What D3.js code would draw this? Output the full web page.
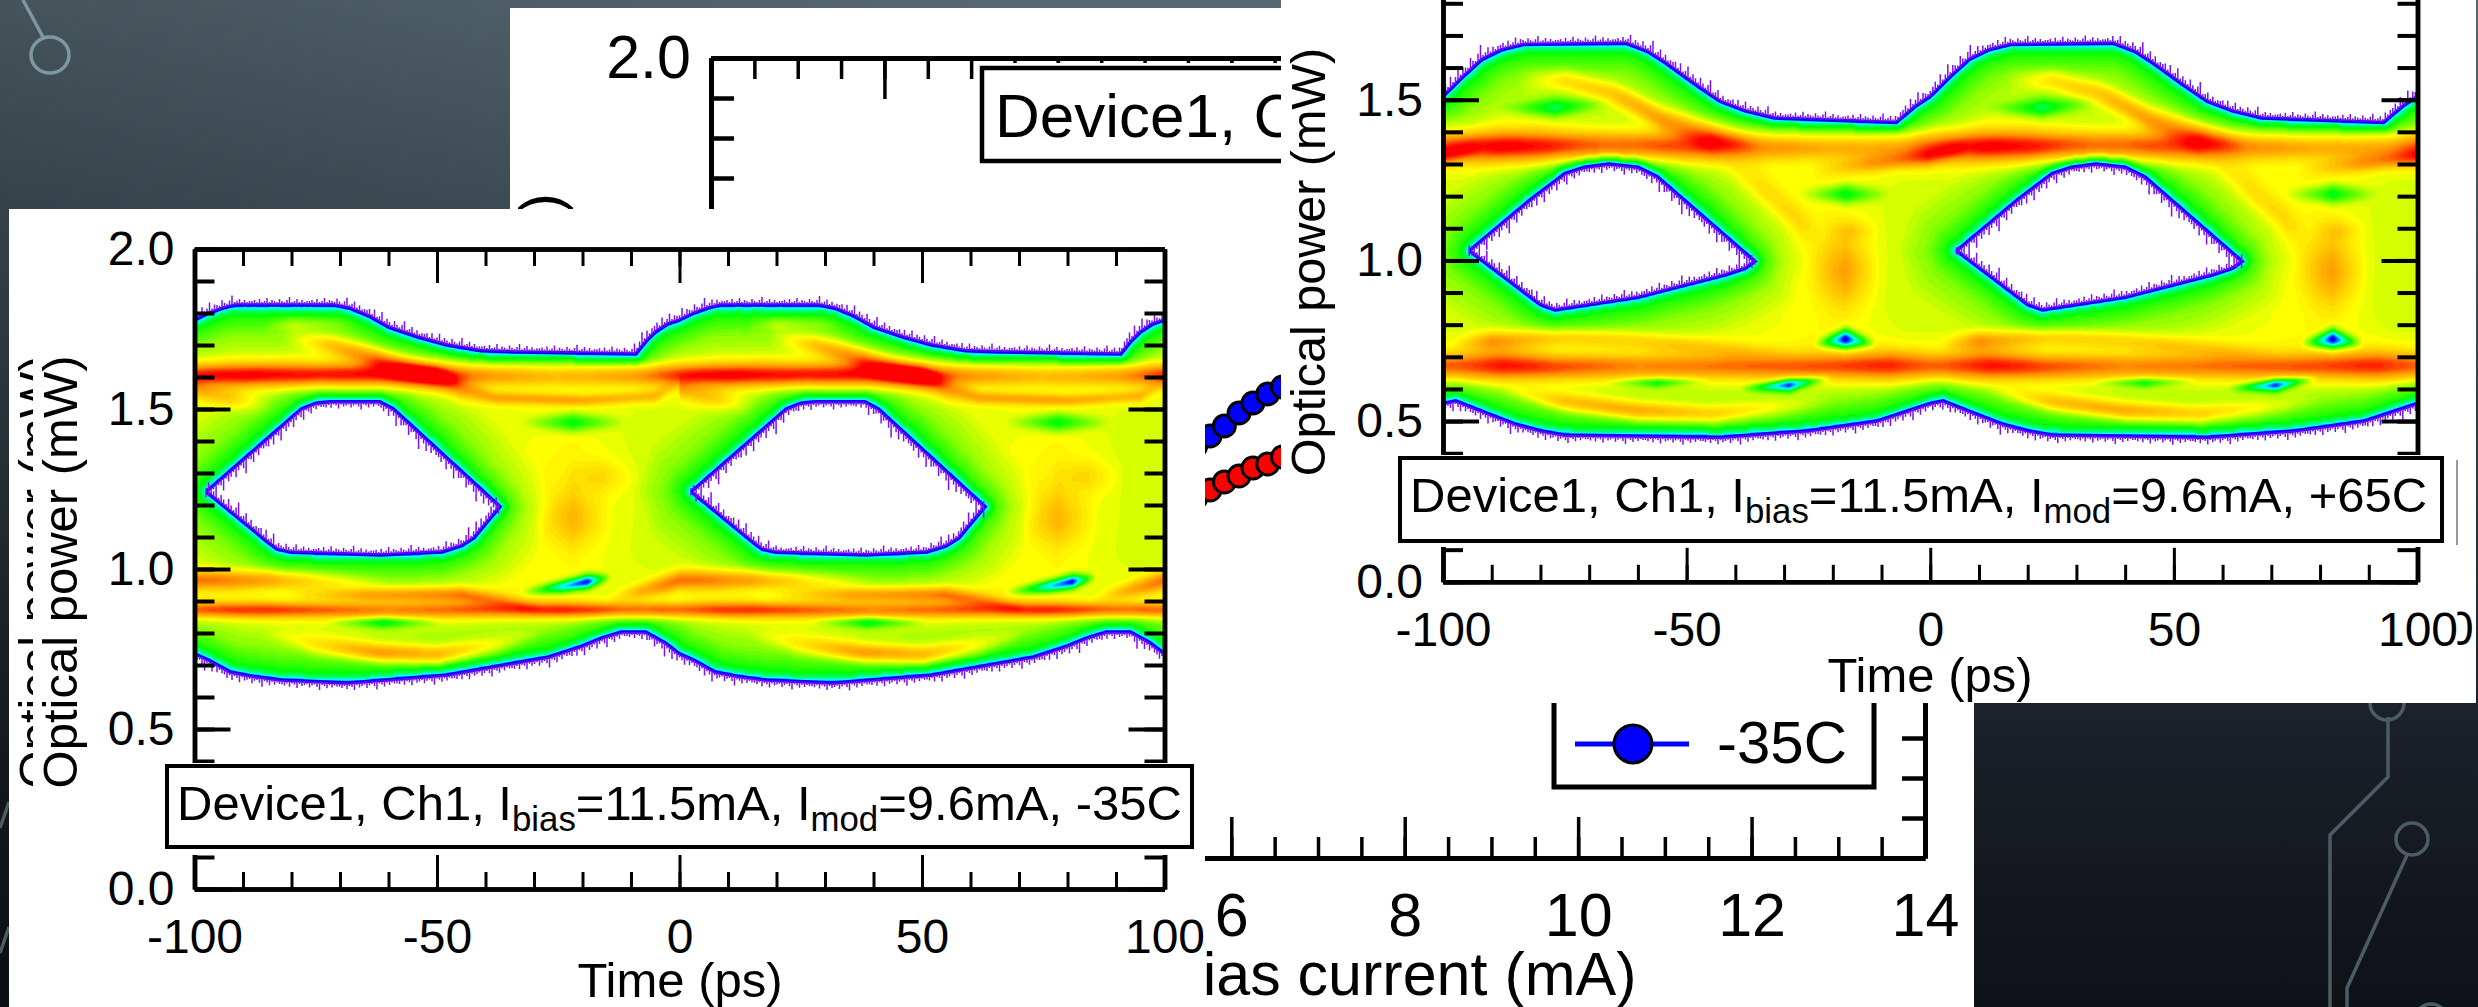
<!DOCTYPE html>
<html>
<head>
<meta charset="utf-8">
<script src="https://d3js.org/d3.v7.min.js"></script>
<style>
html, body { margin: 0; padding: 0; background: #10141a; overflow: hidden; }
text { font-family: "Liberation Sans", Arial, sans-serif; fill: #000; }
.axis text { fill: #000; font-family: "Liberation Sans", Arial, sans-serif; }
.axis path, .axis line { stroke: #000; }
</style>
</head>
<body>
<svg id="slide" width="2478" height="1007"></svg>
<script>
// eye diagram outlines for one 100 ps period, [time ps, power mW]
var coldTopEdge = [[-100,1.778],[-97,1.80],[-94,1.816],[-91.5,1.825],[-71.3,1.825],[-68,1.815],[-64,1.79],[-60,1.756],[-54,1.725],[-48,1.70],[-41,1.682],[-34,1.678],[-9,1.672],[-7,1.71],[-5,1.74],[-2.5,1.765],[0,1.778]];
var coldBottomEdge = [[-100,.735],[-97,.715],[-92.6,.678],[-88,.665],[-82,.653],[-68.4,.644],[-48,.669],[-27,.725],[-20,.76],[-16,.785],[-12,.803],[-7,.803],[-3,.77],[0,.735]];
var coldEyeTop = [[-97.6,1.2415],[-78,1.50],[-75,1.518],[-72,1.523],[-61.8,1.523],[-59,1.50],[-37,1.195]];
var coldEyeBottom = [[-97.6,1.2415],[-85,1.085],[-83,1.062],[-80,1.052],[-61.6,1.044],[-49,1.053],[-45,1.072],[-42.4,1.097],[-37,1.195]];

var hotTopEdge = [[-100,1.51],[-96,1.57],[-92,1.625],[-88,1.655],[-83.4,1.672],[-62.5,1.676],[-58,1.65],[-54.4,1.615],[-48,1.545],[-43.2,1.495],[-38,1.465],[-32,1.443],[-7,1.429],[-3,1.48],[0,1.51]];
var hotBottomEdge = [[-100,.555],[-97.4,.563],[-91,.525],[-85,.49],[-80,.47],[-75,.457],[-43,.45],[-25,.47],[-11,.5],[-3,.54],[0,.555]];
var hotEyeTop = [[-94.6,1.03],[-82,1.19],[-75,1.27],[-71,1.29],[-66,1.30],[-60,1.29],[-56,1.26],[-36,.997]];
var hotEyeBottom = [[-94.6,1.03],[-80,.862],[-77,.846],[-60,.885],[-42,.955],[-38,.975],[-36,.997]];

// hit density ridges and dips, each row [time ps, power mW, strength, spread mW]
var coldRidges = [
  [[-100,1.606,.36,.034],[-85,1.606,.40,.036],[-70,1.606,.44,.038],[-50,1.606,.44,.038],[-42,1.606,.30,.034],[-25,1.606,.20,.034],[-10,1.606,.28,.034],[0,1.606,.36,.034]],
  [[-82,1.73,0,.03],[-72,1.70,.2,.03],[-62,1.655,.28,.034],[-50,1.60,.2,.036],[-45,1.56,.2,.03],[-38,1.535,.22,.02],[-20,1.527,.2,.018],[-5,1.54,.18,.02],[0,1.58,0,.02]],
  [[-100,1.56,.14,.03],[-92,1.53,.12,.03],[-84,1.51,0,.03]],
  [[-86,1.76,0,.02],[-80,1.765,.1,.022],[-72,1.765,.06,.02],[-66,1.76,0,.02]],
  [[-100,1.6,.06,.09],[0,1.6,.06,.09]],
  [[-100,.872,.32,.024],[-85,.872,.34,.024],[-60,.872,.24,.024],[-35,.872,.30,.024],[-25,.872,.38,.024],[-5,.872,.36,.024],[0,.872,.32,.024]],
  [[-100,.966,.28,.03],[-85,.966,.26,.03],[-72,.962,.12,.03],[-60,.96,0,.02]],
  [[-15,.905,0,.02],[-8,.93,.2,.026],[-3,.95,.26,.03],[0,.966,.28,.03]],
  [[-82,.92,0,.02],[-65,.92,.22,.022],[-45,.92,.28,.024],[-36,.90,.16,.022],[-28,.875,0,.02]],
  [[-100,.9,.05,.09],[0,.9,.05,.09]],
  [[-86,.80,0,.02],[-75,.765,.14,.032],[-62,.7375,.32,.03],[-50,.73,.30,.03],[-38,.76,.14,.03],[-28,.80,0,.02]],
  [[-50,1.2,0,.28],[-22,1.25,.08,.3],[-5,1.2,0,.28]],
  [[-30,1.155,0,.07],[-22,1.155,.13,.09],[-14,1.155,0,.07]],
  [[-24,1.29,0,.04],[-16,1.29,.08,.05],[-8,1.29,0,.04]],
  [[-33,1.458,0,.016],[-22,1.458,-.26,.03],[-11,1.458,0,.016]],
  [[-73,.833,0,.012],[-61,.833,-.26,.018],[-49,.833,0,.012]],
  [[-33,.925,0,.014],[-24,.945,-.42,.02],[-19,.96,-.56,.022],[-14,.975,0,.012]]
];
var hotRidges = [
  [[-100,1.354,.32,.044],[-88,1.354,.40,.048],[-80,1.354,.42,.048],[-60,1.354,.38,.046],[-40,1.354,.30,.044],[-20,1.354,.22,.04],[-5,1.354,.26,.044],[0,1.354,.32,.044]],
  [[-85,1.56,0,.03],[-75,1.56,.16,.032],[-65,1.52,.18,.034],[-55,1.44,.24,.036],[-45,1.39,.22,.04],[-35,1.36,0,.03]],
  [[-25,1.28,0,.026],[-12,1.30,.2,.028],[0,1.32,.22,.028]],
  [[-100,1.32,.2,.028],[-92,1.35,0,.026]],
  [[-100,1.35,.05,.1],[0,1.35,.05,.1]],
  [[-42,1.30,0,.05],[-34,1.22,.09,.05],[-27,1.13,.08,.05],[-22,1.08,0,.04]],
  [[-45,1.0,0,.3],[-20,1.0,.08,.3],[-5,1.0,0,.3]],
  [[-25,.966,0,.09],[-17.4,.966,.18,.11],[-10,.966,0,.09]],
  [[-22,1.093,0,.03],[-16,1.093,.08,.03],[-10,1.093,0,.03]],
  [[-100,.67,.33,.042],[-88,.67,.38,.046],[-75,.67,.30,.04],[-60,.67,.23,.036],[-40,.67,.26,.036],[-20,.67,.28,.04],[-8,.67,.36,.046],[0,.67,.33,.042]],
  [[-98,.74,0,.02],[-90,.75,.22,.03],[-75,.76,.18,.028],[-60,.75,.14,.028],[-40,.72,.1,.028],[-28,.71,0,.02]],
  [[-100,.68,.05,.1],[0,.68,.05,.1]],
  [[-88,.60,0,.02],[-75,.56,.22,.03],[-60,.53,.30,.03],[-45,.52,.24,.03],[-30,.54,.1,.03],[-20,.56,0,.02]],
  [[-27,1.206,0,.016],[-17.4,1.206,-.26,.03],[-8,1.206,0,.016]],
  [[-89,1.475,0,.016],[-77,1.475,-.26,.03],[-65,1.49,0,.016]],
  [[-67,.62,0,.01],[-56,.62,-.24,.016],[-45,.625,0,.01]],
  [[-39,.60,0,.01],[-29,.613,-.52,.02],[-20,.635,0,.01]],
  [[-24,.74,0,.014],[-17.4,.755,-.6,.03],[-11,.74,0,.014]]
];

var periodOffsets = [0, 100];

// the temperature sweep hidden behind the two eyes
var sweepCurrent = [5.59, 5.755, 5.92, 6.09, 6.25, 6.42, 6.59];
var sweepCold = [1.03, 1.055, 1.08, 1.1125, 1.1375, 1.16, 1.1775];
var sweepHot = [.90, .92, .94, .955, .975, .985, 1.0025];

var timeMajor = [-100, -50, 0, 50, 100];
var powerMajor = [0, .5, 1, 1.5, 2];
var currentMajor = [0, 2, 4, 6, 8, 10, 12, 14];

// edge ragging, pixels, repeats along each outline
var speckle = [2, 3, 1, 4, 1, 2, 5, 1, 3, 2, 1, 4, 2, 1, 3, 6, 1, 2, 4, 1, 3, 1, 2];

var svg = d3.select("#slide");

var rainbow = d3.scaleLinear()
    .domain([0, .08, .22, .38, .62, .85, 1])
    .range(["#8000ff", "#0000ff", "#00ffff", "#00ff00", "#ffff00", "#ff8c00", "#ff0000"])
    .clamp(true);

var edgeFade = d3.scaleLinear()
    .domain([0, 3, 6, 12, 30, 60])
    .range([.08, .22, .32, .40, .50, .57])
    .clamp(true);

function pieceScale(rows, col) {
    return d3.scaleLinear()
        .domain(rows.map(function(d) { return d[0]; }))
        .range(rows.map(function(d) { return d[col]; }))
        .clamp(true);
}

function wrapTime(t) {
    var w = ((t + 100) % 100 + 100) % 100 - 100;
    return w;
}

// plain hyphen on the labels, as on the instrument plots
function plainNumber(d) { return String(d); }

drawBackground();
drawCentrePanel();
drawRightPanel();
drawLeftPanel();

function drawBackground() {
    var defs = svg.append("defs");
    var vert = defs.append("linearGradient").attr("id", "bgv")
        .attr("x1", 0).attr("y1", 0).attr("x2", 0).attr("y2", 1);
    vert.append("stop").attr("offset", 0).attr("stop-color", "#566871");
    vert.append("stop").attr("offset", .2).attr("stop-color", "#43535d");
    vert.append("stop").attr("offset", .7).attr("stop-color", "#1c222a");
    vert.append("stop").attr("offset", 1).attr("stop-color", "#0e1115");
    var side = defs.append("linearGradient").attr("id", "bgh")
        .attr("x1", 0).attr("y1", 0).attr("x2", 1).attr("y2", 0);
    side.append("stop").attr("offset", 0).attr("stop-color", "#000").attr("stop-opacity", .2);
    side.append("stop").attr("offset", .4).attr("stop-color", "#000").attr("stop-opacity", 0);
    svg.append("rect").attr("width", 2478).attr("height", 1007).attr("fill", "url(#bgv)");
    svg.append("rect").attr("width", 2478).attr("height", 1007).attr("fill", "url(#bgh)");

    var line = d3.line();
    var traces = svg.append("g").attr("fill", "none").attr("stroke-width", 3.5);
    traces.append("path").attr("stroke", "#7d97a3").attr("d", line([[23, 0], [43, 37]]));
    traces.append("ellipse").attr("stroke", "#7d97a3").attr("cx", 50).attr("cy", 55).attr("rx", 19).attr("ry", 18);
    traces.append("path").attr("stroke", "#4c5c64").attr("d", line([[0, 828], [9, 802]]));
    traces.append("path").attr("stroke", "#4c5c64").attr("d", line([[0, 953], [9, 927]]));
    traces.append("circle").attr("stroke", "#4c5c64").attr("cx", 2387).attr("cy", 703).attr("r", 17);
    traces.append("path").attr("stroke", "#4c5c64").attr("d", line([[2388, 717], [2388, 777], [2330, 835], [2330, 1007]]));
    traces.append("circle").attr("stroke", "#4c5c64").attr("cx", 2412).attr("cy", 839).attr("r", 16);
    traces.append("path").attr("stroke", "#4c5c64").attr("d", line([[2408, 853], [2347, 988], [2347, 1007]]));
    traces.append("circle").attr("stroke", "#4c5c64").attr("cx", 2431).attr("cy", 1020).attr("r", 16);
}

// axes on all four sides with ticks pointing into the plot
function drawFrame(g, x, y, o) {
    var w = x.range()[1], h = y.range()[0];
    var sets = [
        {gen: d3.axisBottom(x), at: [0, h], vals: o.xMinor, len: o.xMinorLen, sw: o.minorW},
        {gen: d3.axisTop(x), at: [0, 0], vals: o.xMinor, len: o.xMinorLen, sw: o.minorW},
        {gen: d3.axisLeft(y), at: [0, 0], vals: o.yMinor, len: o.yMinorLen, sw: o.yW},
        {gen: d3.axisRight(y), at: [w, 0], vals: o.yMinor, len: o.yMinorLen, sw: o.yW},
        {gen: d3.axisTop(x), at: [0, 0], vals: o.xMajor, len: o.xMajorLen, sw: o.minorW},
        {gen: d3.axisRight(y), at: [w, 0], vals: o.yMajor, len: o.yMajorLen, sw: o.yW},
        {gen: d3.axisBottom(x), at: [0, h], vals: o.xMajor, len: o.xMajorLen, sw: o.minorW, labels: o.xFormat, pad: o.xPad},
        {gen: d3.axisLeft(y), at: [0, 0], vals: o.yMajor, len: o.yMajorLen, sw: o.yW, labels: o.yFormat, pad: o.yPad}
    ];
    sets.forEach(function(s) {
        var a = s.gen.tickValues(s.vals).tickSizeInner(-s.len).tickSizeOuter(0);
        if (s.labels) a.tickFormat(s.labels).tickPadding(s.pad);
        else a.tickFormat("");
        var ag = g.append("g").attr("class", "axis")
            .attr("transform", "translate(" + s.at + ")")
            .style("font-size", o.font + "px")
            .call(a);
        ag.selectAll("line").attr("stroke-width", s.sw);
        ag.select(".domain").attr("stroke-width", o.domainW);
    });
}

function annotation(g, x0, y0, bw, bh, tx, ty, fs, tail) {
    g.append("rect").attr("x", x0).attr("y", y0).attr("width", bw).attr("height", bh)
        .attr("fill", "#fff").attr("stroke", "#000").attr("stroke-width", 4);
    var t = g.append("text").attr("x", tx).attr("y", ty).style("font-size", fs + "px");
    var sub = fs * .71, drop = fs * .22;
    t.append("tspan").text("Device1, Ch1, I");
    t.append("tspan").attr("dy", drop).style("font-size", sub + "px").text("bias");
    t.append("tspan").attr("dy", -drop).text("=11.5mA, I");
    t.append("tspan").attr("dy", drop).style("font-size", sub + "px").text("mod");
    t.append("tspan").attr("dy", -drop).text("=9.6mA, " + tail);
}

function drawEye(g, x, y, chart, clipId) {
    var w = x.range()[1], h = y.range()[0];
    var step = 2;
    var n = Math.ceil(w / step) + 1, m = Math.ceil(h / step) + 1;
    var top = pieceScale(chart.top, 1), bottom = pieceScale(chart.bottom, 1);
    var eyeTop = pieceScale(chart.eyeTop, 1), eyeBottom = pieceScale(chart.eyeBottom, 1);
    var eyeStart = chart.eyeTop[0][0], eyeEnd = chart.eyeTop[chart.eyeTop.length - 1][0];

    var ridges = chart.ridges.map(function(r) {
        return {start: r[0][0], end: r[r.length - 1][0], p: pieceScale(r, 1), a: pieceScale(r, 2), s: pieceScale(r, 3)};
    });

    // chamfer distance from the edge of the written area
    var dist = new Float32Array(n * m);
    var i, j, k;
    for (j = 0; j < m; j++) {
        var p = y.invert(j * step);
        for (i = 0; i < n; i++) {
            var T = wrapTime(x.invert(i * step));
            var inside = p < top(T) && p > bottom(T);
            if (inside && T >= eyeStart && T <= eyeEnd && p < eyeTop(T) && p > eyeBottom(T)) inside = false;
            dist[j * n + i] = inside ? 1e6 : 0;
        }
    }
    var a1 = step, a2 = step * 1.414;
    for (j = 1; j < m; j++) for (i = 1; i < n - 1; i++) {
        k = j * n + i;
        dist[k] = Math.min(dist[k], dist[k - 1] + a1, dist[k - n] + a1, dist[k - n - 1] + a2, dist[k - n + 1] + a2);
    }
    for (j = m - 2; j >= 0; j--) for (i = n - 2; i > 0; i--) {
        k = j * n + i;
        dist[k] = Math.min(dist[k], dist[k + 1] + a1, dist[k + n] + a1, dist[k + n + 1] + a2, dist[k + n - 1] + a2);
    }

    var field = new Float64Array(n * m);
    for (i = 0; i < n; i++) {
        var t = wrapTime(x.invert(i * step));
        var live = ridges.filter(function(r) { return t >= r.start && t <= r.end; }).map(function(r) {
            return {p: r.p(t), a: r.a(t), s: r.s(t)};
        });
        for (j = 0; j < m; j++) {
            k = j * n + i;
            if (dist[k] <= 0) continue;
            var pw = y.invert(j * step), sum = 0;
            live.forEach(function(r) {
                var z = (pw - r.p) / r.s;
                sum += r.a * Math.exp(-z * z);
            });
            field[k] = Math.max(.05, edgeFade(dist[k]) + sum * Math.min(1, dist[k] / 14));
        }
    }

    var bands = d3.contours().size([n, m]).thresholds(d3.range(.03, 1, .02))(field);
    var plot = g.append("g").attr("clip-path", "url(#" + clipId + ")");
    plot.append("g")
        .attr("transform", "scale(" + step + ") translate(-.5,-.5)")
        .selectAll("path")
        .data(bands)
        .enter()
        .append("path")
        .attr("d", d3.geoPath())
        .attr("fill", function(d) { return rainbow(d.value + .01); });

    var line = d3.line().x(function(d) { return x(d[0]); }).y(function(d) { return y(d[1]); });
    var ragged = [
        {fn: top, sign: -1, from: -100, to: 0},
        {fn: bottom, sign: 1, from: -100, to: 0},
        {fn: eyeTop, sign: 1, from: eyeStart, to: eyeEnd},
        {fn: eyeBottom, sign: -1, from: eyeStart, to: eyeEnd}
    ];
    var fuzz = "";
    var count = 0;
    periodOffsets.forEach(function(off) {
        [chart.top, chart.bottom].forEach(function(edge) {
            plot.append("path").attr("fill", "none").attr("stroke", "#1400ff").attr("stroke-width", 3.5)
                .attr("d", line(edge.map(function(d) { return [d[0] + off, d[1]]; })));
        });
        plot.append("path").attr("fill", "none").attr("stroke", "#1400ff").attr("stroke-width", 3.5)
            .attr("d", line(chart.eyeTop.concat(chart.eyeBottom.slice().reverse()).map(function(d) { return [d[0] + off, d[1]]; })));
        ragged.forEach(function(e) {
            var x0 = x(e.from + off), x1 = x(e.to + off);
            for (var px = x0; px <= x1; px += 2.5) {
                var tt = x.invert(px) - off;
                var py = y(e.fn(tt));
                var slope = Math.abs(y(e.fn(tt + .5)) - y(e.fn(tt - .5))) / Math.abs(x(1) - x(0));
                var len = 2 + speckle[count++ % speckle.length] * (1 + Math.min(2.2, slope * 1.6));
                fuzz += "M" + px.toFixed(1) + "," + py.toFixed(1) + "v" + (e.sign * len).toFixed(1);
            }
        });
    });
    plot.append("path").attr("fill", "none").attr("stroke", "#7a10ff").attr("stroke-width", 1.5).attr("d", fuzz);
}

function eyeFrame(g, x, y) {
    drawFrame(g, x, y, {
        xMinor: d3.range(-100, 101, 10), xMajor: timeMajor,
        yMinor: d3.range(0, 2.01, .1), yMajor: powerMajor,
        xMinorLen: 17, xMajorLen: 34, yMinorLen: 20, yMajorLen: 36,
        minorW: 3, yW: 4, domainW: 4.5, font: 48,
        xFormat: plainNumber, xPad: 30,
        yFormat: d3.format(".1f"), yPad: 20
    });
}

function drawLeftPanel() {
    svg.append("rect").attr("x", 9).attr("y", 209).attr("width", 1196).attr("height", 798).attr("fill", "#fff");

    svg.append("clipPath").attr("id", "ghostClip").append("rect").attr("x", 0).attr("y", 200).attr("width", 33).attr("height", 800);
    svg.append("g").attr("clip-path", "url(#ghostClip)").append("text")
        .attr("transform", "translate(53,572) rotate(-90)").attr("text-anchor", "middle")
        .style("font-size", "49px").text("Optical power (mW)");

    var g = svg.append("g").attr("transform", "translate(194.5,249)");
    var x = d3.scaleLinear().domain([-100, 100]).range([0, 970]);
    var y = d3.scaleLinear().domain([0, 2]).range([640, 0]);
    svg.append("clipPath").attr("id", "coldPlot").append("rect").attr("width", 970).attr("height", 640);
    drawEye(g, x, y, {top: coldTopEdge, bottom: coldBottomEdge, eyeTop: coldEyeTop, eyeBottom: coldEyeBottom, ridges: coldRidges}, "coldPlot");
    eyeFrame(g, x, y);

    svg.append("rect").attr("x", 160).attr("y", 763).attr("width", 1040).attr("height", 92).attr("fill", "#fff");
    annotation(svg, 167, 766, 1025, 81, 177, 820, 49, "-35C");

    svg.append("text").attr("x", 680).attr("y", 997).attr("text-anchor", "middle").style("font-size", "49px").text("Time (ps)");
    svg.append("text").attr("transform", "translate(77,572) rotate(-90)").attr("text-anchor", "middle")
        .style("font-size", "49px").text("Optical power (mW)");
}

function drawRightPanel() {
    svg.append("rect").attr("x", 1281).attr("y", 0).attr("width", 1195).attr("height", 703).attr("fill", "#fff");

    var g = svg.append("g").attr("transform", "translate(1443,-61)");
    var x = d3.scaleLinear().domain([-100, 100]).range([0, 974.5]);
    var y = d3.scaleLinear().domain([0, 2]).range([642.8, 0]);
    svg.append("clipPath").attr("id", "hotPlot").append("rect").attr("width", 974.5).attr("height", 642.8);
    drawEye(g, x, y, {top: hotTopEdge, bottom: hotBottomEdge, eyeTop: hotEyeTop, eyeBottom: hotEyeBottom, ridges: hotRidges}, "hotPlot");
    eyeFrame(g, x, y);

    svg.append("rect").attr("x", 1392).attr("y", 455).attr("width", 1060).attr("height", 92).attr("fill", "#fff");
    annotation(svg, 1400, 458, 1042, 83, 1410, 512, 49, "+65C");
    svg.append("line").attr("x1", 2457).attr("x2", 2457).attr("y1", 460).attr("y2", 545)
        .attr("stroke", "#777").attr("stroke-width", 1.5);

    // half a digit left over from the picture underneath
    svg.append("clipPath").attr("id", "digitClip").append("rect").attr("x", 2457.5).attr("y", 600).attr("width", 16).attr("height", 60);
    svg.append("g").attr("clip-path", "url(#digitClip)").append("text")
        .attr("x", 2447).attr("y", 645).style("font-size", "48px").text("0");

    svg.append("text").attr("x", 1930).attr("y", 692).attr("text-anchor", "middle").style("font-size", "49px").text("Time (ps)");
    svg.append("text").attr("transform", "translate(1325,262) rotate(-90)").attr("text-anchor", "middle")
        .style("font-size", "48.5px").text("Optical power (mW)");
}

function drawCentrePanel() {
    svg.append("rect").attr("x", 510).attr("y", 8).attr("width", 1464).attr("height", 999).attr("fill", "#fff");

    var g = svg.append("g").attr("transform", "translate(711,58)");
    var x = d3.scaleLinear().domain([0, 14]).range([0, 1214]);
    var y = d3.scaleLinear().domain([0, 2]).range([800, 0]);

    var rows = sweepCurrent.map(function(c, i) { return {c: c, cold: sweepCold[i], hot: sweepHot[i]}; });
    [["hot", "#ff0000"], ["cold", "#0000ff"]].forEach(function(s) {
        g.selectAll(".pt-" + s[0])
            .data(rows)
            .enter()
            .append("circle")
            .attr("class", "pt-" + s[0])
            .attr("cx", function(d) { return x(d.c); })
            .attr("cy", function(d) { return y(d[s[0]]); })
            .attr("r", 11)
            .attr("fill", s[1])
            .attr("stroke", "#000")
            .attr("stroke-width", 3);
    });

    drawFrame(g, x, y, {
        xMinor: d3.range(0, 14.01, .5), xMajor: currentMajor,
        yMinor: d3.range(0, 2.01, .1), yMajor: powerMajor,
        xMinorLen: 21, xMajorLen: 41, yMinorLen: 23, yMajorLen: 42,
        minorW: 3.5, yW: 4.5, domainW: 5, font: 61,
        xFormat: plainNumber, xPad: 35,
        yFormat: d3.format(".1f"), yPad: 20
    });

    svg.append("rect").attr("x", 975).attr("y", 63).attr("width", 330).attr("height", 105).attr("fill", "#fff");
    svg.append("rect").attr("x", 982).attr("y", 68).attr("width", 500).attr("height", 93)
        .attr("fill", "#fff").attr("stroke", "#000").attr("stroke-width", 4.5);
    svg.append("text").attr("x", 995).attr("y", 137).style("font-size", "62px").text("Device1, Ch1");

    svg.append("rect").attr("x", 1554).attr("y", 600).attr("width", 320).attr("height", 187)
        .attr("fill", "#fff").attr("stroke", "#000").attr("stroke-width", 5);
    svg.append("line").attr("x1", 1575).attr("x2", 1689).attr("y1", 744).attr("y2", 744)
        .attr("stroke", "#0000ff").attr("stroke-width", 5);
    svg.append("circle").attr("cx", 1633).attr("cy", 744).attr("r", 19)
        .attr("fill", "#0000ff").attr("stroke", "#000").attr("stroke-width", 3);
    svg.append("text").attr("x", 1717).attr("y", 763).style("font-size", "60px").text("-35C");

    svg.append("text").attr("x", 1162).attr("y", 995).style("font-size", "61px").text("Bias current (mA)");
    svg.append("text").attr("transform", "translate(561,458) rotate(-90)").attr("text-anchor", "middle")
        .style("font-size", "60px").text("Optical power (mW)");
}
</script>
</body>
</html>
